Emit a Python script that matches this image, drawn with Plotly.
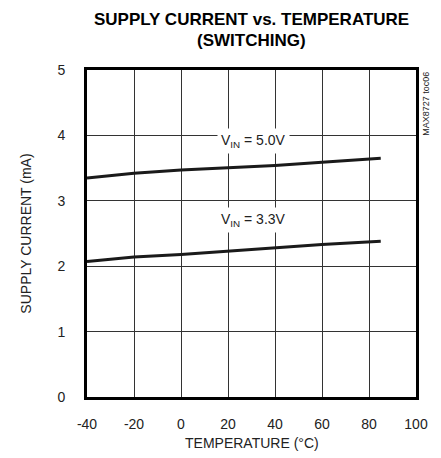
import plotly.graph_objects as go

temp = [-40, -20, 0, 20, 40, 60, 85]
i_50 = [3.35, 3.42, 3.47, 3.50, 3.54, 3.59, 3.65]
i_33 = [2.07, 2.14, 2.18, 2.23, 2.29, 2.33, 2.38]
x_ticks = [-40, -20, 0, 20, 40, 60, 80, 100]
y_ticks = [0, 1, 2, 3, 4, 5]

FONT = "Liberation Sans, Arial, Helvetica, sans-serif"
TXT = "#222"

fig = go.Figure()
fig.add_trace(go.Scatter(x=temp, y=i_50, mode="lines", line=dict(color="#1a1a1a", width=3), showlegend=False))
fig.add_trace(go.Scatter(x=temp, y=i_33, mode="lines", line=dict(color="#1a1a1a", width=3), showlegend=False))

fig.add_annotation(x=31, y=3.92, text="V<sub>IN</sub> = 5.0V", showarrow=False,
                   bgcolor="white", font=dict(family=FONT, size=14, color=TXT), borderpad=3)
fig.add_annotation(x=31, y=2.70, text="V<sub>IN</sub> = 3.3V", showarrow=False,
                   bgcolor="white", font=dict(family=FONT, size=14, color=TXT), borderpad=3)
fig.add_annotation(xref="paper", yref="paper", x=1.030, y=1.0, yanchor="top", xanchor="center",
                   text="MAX8727 toc06", textangle=-90, showarrow=False,
                   font=dict(family=FONT, size=9, color=TXT))
# title
fig.add_annotation(xref="paper", yref="paper", x=0.5, y=1.154, yanchor="middle", xanchor="center",
                   text="<b>SUPPLY CURRENT vs. TEMPERATURE</b>", showarrow=False,
                   font=dict(family=FONT, size=17, color="black"))
fig.add_annotation(xref="paper", yref="paper", x=0.5, y=1.090, yanchor="middle", xanchor="center",
                   text="<b>(SWITCHING)</b>", showarrow=False,
                   font=dict(family=FONT, size=17, color="black"))
# axis titles
fig.add_annotation(xref="paper", yref="paper", x=0.5, y=-0.141, yanchor="middle", xanchor="center",
                   text="TEMPERATURE (°C)", showarrow=False,
                   font=dict(family=FONT, size=14, color=TXT))
fig.add_annotation(xref="paper", yref="paper", x=-0.188, y=0.5, yanchor="middle", xanchor="center",
                   text="SUPPLY CURRENT (mA)", textangle=-90, showarrow=False,
                   font=dict(family=FONT, size=14, color=TXT))

fig.update_layout(
    width=433, height=450,
    margin=dict(l=79, r=25, t=62, b=61, autoexpand=False),
    paper_bgcolor="white", plot_bgcolor="white",
    font=dict(family=FONT, size=14, color=TXT),
)
fig.update_xaxes(range=[-40, 100], tickvals=x_ticks, ticktext=[str(v) for v in x_ticks],
                 showgrid=True, gridcolor="#333", gridwidth=1,
                 showline=True, linecolor="black", linewidth=3, mirror=True,
                 ticks="", zeroline=False, ticklabelstandoff=12, automargin=False,
                 tickfont=dict(family=FONT, size=14, color=TXT))
fig.update_yaxes(range=[0, 5], tickvals=y_ticks, ticktext=[str(v) for v in y_ticks],
                 showgrid=True, gridcolor="#333", gridwidth=1,
                 showline=True, linecolor="black", linewidth=3, mirror=True,
                 ticks="", zeroline=False, ticklabelstandoff=16, automargin=False,
                 tickfont=dict(family=FONT, size=14, color=TXT))

fig.write_html("out.html")
